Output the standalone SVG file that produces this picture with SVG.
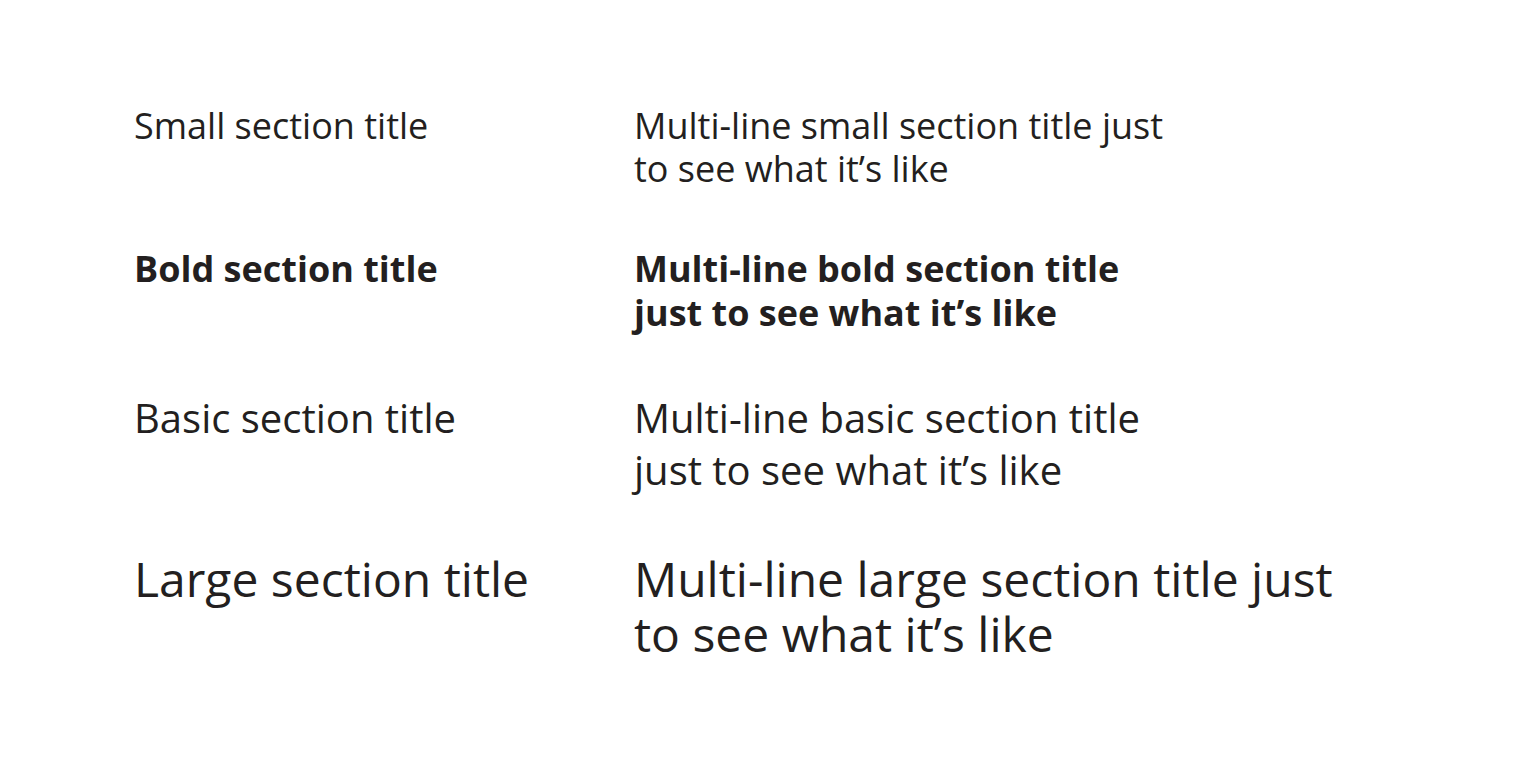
<svg xmlns="http://www.w3.org/2000/svg" width="1520" height="762" viewBox="0 0 1520 762">
<style>
text{font-family:"Open Sans","Noto Sans",sans-serif;fill:#231f20}
.s{font-size:36px}
.b{font-size:36px;font-weight:700}
.m{font-size:40px}
.l{font-size:48px}
</style>
<rect width="1520" height="762" fill="#ffffff"/>
<g id="small-title"><text class="s" x="134" y="139">Small section title</text></g>
<g id="small-multi"><text class="s" x="634" y="139">Multi-line small section title just</text><text class="s" x="634" y="182">to see what it’s like</text></g>
<g id="bold-title"><text class="b" x="134" y="282">Bold section title</text></g>
<g id="bold-multi"><text class="b" x="634" y="282">Multi-line bold section title</text><text class="b" x="634" y="326">just to see what it’s like</text></g>
<g id="basic-title"><text class="m" x="134" y="433">Basic section title</text></g>
<g id="basic-multi"><text class="m" x="634" y="433">Multi-line basic section title</text><text class="m" x="634" y="485">just to see what it’s like</text></g>
<g id="large-title"><text class="l" x="134" y="597">Large section title</text></g>
<g id="large-multi"><text class="l" x="634" y="597">Multi-line large section title just</text><text class="l" x="634" y="652">to see what it’s like</text></g>
</svg>
